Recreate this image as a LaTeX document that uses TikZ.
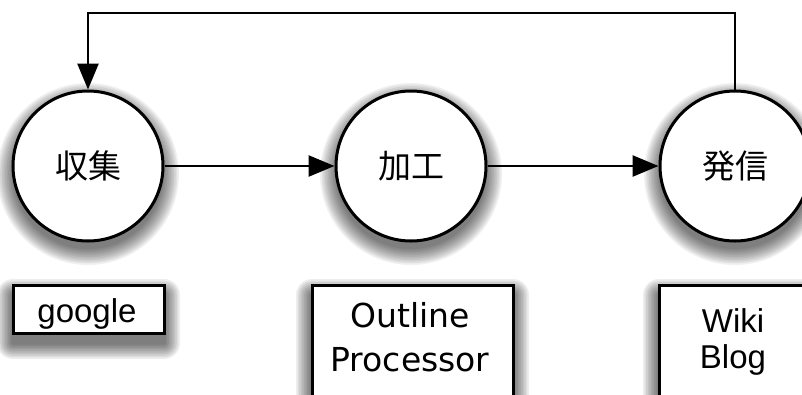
\documentclass[tikz,border=0pt]{standalone}
\usepackage{fontspec}
\setmainfont{Liberation Sans}
\newfontfamily\jpfont{Noto Sans CJK JP}
\newfontfamily\latinwide{DejaVu Sans}
\usetikzlibrary{arrows.meta}

% soft drop shadow under a circle: centre x, centre y, radius
\newcommand\circshadow[3]{%
  \foreach \k in {0,...,10}{%
    \pgfmathsetmacro\e{16-\k*1.6}%
    \fill[black,opacity=0.06] (#1,#2+8) circle[radius={(#3+\e)*1pt}];}}
% soft drop shadow under a box: x1, y1, x2, y2
\newcommand\boxshadow[4]{%
  \foreach \k in {0,...,9}{%
    \pgfmathsetmacro\e{16-\k*1.6}%
    \fill[black,opacity=0.065,rounded corners=\e pt]
      (#1-\e,#2-\e+10) rectangle (#3+\e,#4+\e+10);}}

\tikzset{
  x=1pt, y=-1pt,
  stage/.style={circle, draw, fill=white, line width=3pt,
    minimum size=150pt, inner sep=0pt, font=\jpfont\fontsize{33}{36}\selectfont},
  toolbox/.style={draw, fill=white, line width=3pt, inner sep=0pt},
  flow/.style={line width=2.6pt, -{Triangle[length=26pt,width=21pt]}},
  tooltext/.style={anchor=base, inner sep=0pt, font=\fontsize{33}{36}\selectfont},
}

\begin{document}
\begin{tikzpicture}
\useasboundingbox (0,0) rectangle (802,394);
\clip (0,0) rectangle (802,394);
\fill[white] (0,0) rectangle (802,394);

% shadows
\circshadow{88}{166}{75}
\circshadow{411}{166}{75}
\circshadow{735}{166}{75}
\boxshadow{13}{285}{164}{333}
\boxshadow{312}{285}{513}{420}
\boxshadow{659}{285}{830}{420}

% process stages
\node[stage] (collect) at (88,166) {収集};
\node[stage] (process) at (411,166) {加工};
\node[stage] (publish) at (735,166) {発信};

% tools
\node[toolbox, minimum width=151pt, minimum height=48pt] (google) at (88.5,309) {};
\node[toolbox, minimum width=201pt, minimum height=135pt] (outliner) at (412.5,352.5) {};
\node[toolbox, minimum width=171pt, minimum height=135pt] (wikiblog) at (744.5,352.5) {};

\node[tooltext] (googletxt) at (87,322) {google};
\node[tooltext, font=\latinwide\fontsize{33}{36}\selectfont] (outlineA) at (410,327) {Outline};
\node[tooltext, font=\latinwide\fontsize{33}{36}\selectfont] (outlineB) at (410,371) {Processor};
\node[tooltext] (wikitxt) at (733,332) {Wiki};
\node[tooltext] (blogtxt) at (733,368) {Blog};

% flow
\coordinate (top) at (0,13);
\draw[flow] (collect) -- (process);
\draw[flow] (process) -- (publish);
\draw[flow] (publish.north) -- (publish.north |- top) -| (collect.north);
\end{tikzpicture}
\end{document}
